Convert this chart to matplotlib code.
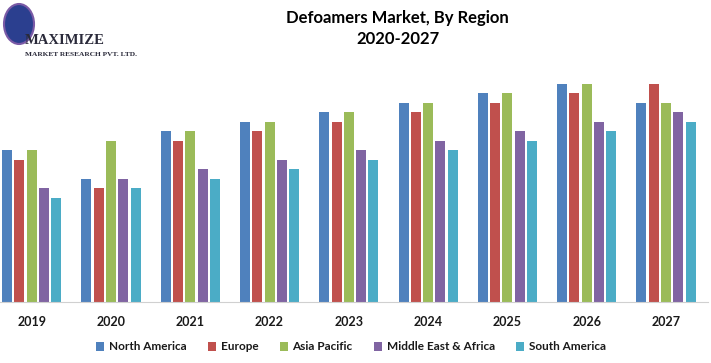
import numpy as np
import matplotlib.pyplot as plt
from matplotlib.patches import Ellipse

years = ["2019", "2020", "2021", "2022", "2023", "2024", "2025", "2026", "2027"]
regions = ["North America", "Europe", "Asia Pacific", "Middle East & Africa", "South America"]
north_america = [16, 13, 18, 19, 20, 21, 22, 23, 21]
europe = [15, 12, 17, 18, 19, 20, 21, 22, 23]
asia_pacific = [16, 17, 18, 19, 20, 21, 22, 23, 21]
middle_east_africa = [12, 13, 14, 15, 16, 17, 18, 19, 20]
south_america = [11, 12, 13, 14, 15, 16, 17, 18, 19]
colors = ["#4F81BD", "#C0504D", "#9BBB59", "#8064A2", "#4BACC6"]

series = [north_america, europe, asia_pacific, middle_east_africa, south_america]

plt.rcParams["font.family"] = ["Lato", "DejaVu Sans"]

fig = plt.figure(figsize=(7.11, 3.63), dpi=100, facecolor="white")
ax = fig.add_axes([0.0, 1 - 302 / 363, 708 / 711, (302 - 70) / 363])

x = np.arange(len(years))
width = 0.126
pitch = 0.155
for i, (vals, col, name) in enumerate(zip(series, colors, regions)):
    ax.bar(x + (i - 2) * pitch, vals, width, color=col, label=name)

ax.set_xlim(-0.40, 8.53)
ax.set_ylim(0, (302 - 70) / 9.5)
ax.set_xticks(x)
ax.set_xticklabels(years, fontsize=9, fontweight="bold", color="#1a1a1a")
ax.tick_params(axis="x", length=0, pad=10)
ax.set_yticks([])
for s in ["top", "left", "right"]:
    ax.spines[s].set_visible(False)
ax.spines["bottom"].set_color("#D0D0D0")

fig.text(397 / 711, 1 - 18 / 363, "Defoamers Market, By Region", ha="center", va="center",
         fontsize=12, fontweight="bold", color="black")
fig.text(398 / 711, 1 - 39 / 363, "2020-2027", ha="center", va="center",
         fontsize=12, fontweight="bold", color="black")

leg = fig.legend(loc="center", bbox_to_anchor=(351 / 711, 1 - 347 / 363), ncol=5,
                 frameon=False, fontsize=8.5, handlelength=0.7, handleheight=0.7,
                 handletextpad=0.4, columnspacing=1.8)
for t in leg.get_texts():
    t.set_fontweight("bold")
    t.set_color("#1a1a1a")

# logo
fig.patches.append(Ellipse((19 / 711, 1 - 24 / 363), 30 / 711, 40 / 363,
                           transform=fig.transFigure, facecolor="#2b3f8f",
                           edgecolor="#7a5aa6", linewidth=1.5))
fig.text(25 / 711, 1 - 40 / 363, "MAXIMIZE", fontsize=10.5, fontweight="bold",
         family="Liberation Serif", color="#2a2a3a", va="center", ha="left")
fig.text(25 / 711, 1 - 54 / 363, "MARKET RESEARCH PVT. LTD.", fontsize=5.3,
         fontweight="bold", family="Liberation Serif", color="#2a2a3a",
         va="center", ha="left")

fig.savefig("out.png", dpi=100, facecolor="white")
